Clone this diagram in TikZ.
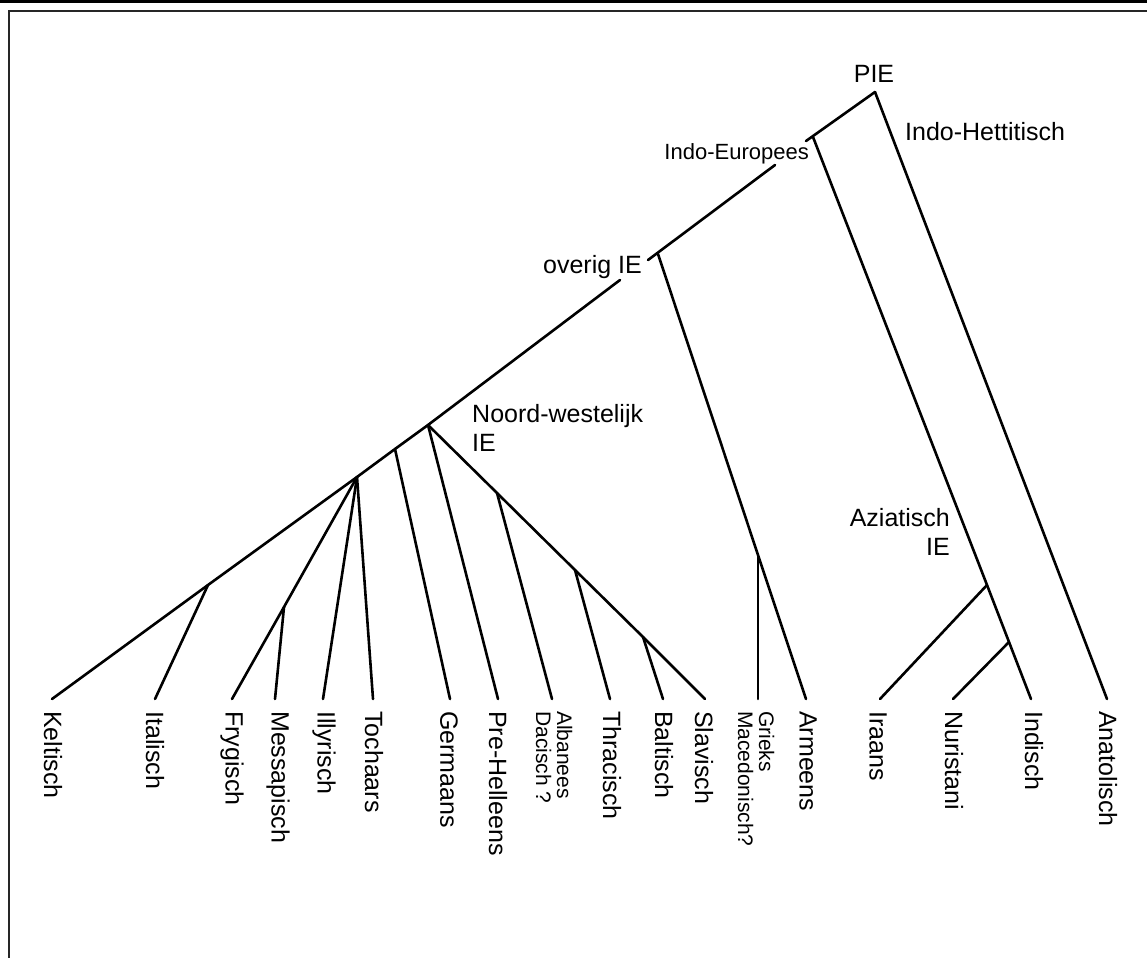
\documentclass[tikz,border=0pt]{standalone}
\usepackage{fontspec}
\setmainfont{Liberation Sans}
\begin{document}
\begin{tikzpicture}[x=1pt,y=-1pt,
  br/.style={line width=2.6pt, line cap=round, line join=round},
  lbl/.style={font=\fontsize{25}{29}\selectfont, inner sep=0pt},
  leaf/.style={lbl, rotate=-90, anchor=west},
  leafsm/.style={leaf, font=\fontsize{21}{21}\selectfont, align=left}]
\useasboundingbox (0,0) rectangle (1147,958);
% frame
\fill[black] (0,0) rectangle (1147,3);
\draw[line width=2pt, black!85] (1147,11) -- (9,11) -- (9,958);

% junctions
\coordinate (pie) at (875,92);
\coordinate (ie) at (813,137);
\coordinate (ieT) at (806,141);
\coordinate (ieS) at (775,165);
\coordinate (ov) at (658,254);
\coordinate (ovT) at (648,260);
\coordinate (ovS) at (620,280);
\coordinate (nw) at (428,425);
\coordinate (ge) at (395,449);
\coordinate (n2) at (357,477);
\coordinate (it) at (208,585);
\coordinate (me) at (284,607);
\coordinate (al) at (497,493);
\coordinate (th) at (575,570);
\coordinate (ba) at (643,637);
\coordinate (gr) at (758,555);
\coordinate (az) at (987,585);
\coordinate (nu) at (1009,642);
% leaf ends
\coordinate (eKel) at (52,699);
\coordinate (eIta) at (155,699);
\coordinate (eFry) at (232,699);
\coordinate (eMes) at (275,699);
\coordinate (eIll) at (323,699);
\coordinate (eToc) at (373,699);
\coordinate (eGer) at (450,699);
\coordinate (ePre) at (498,699);
\coordinate (eAlb) at (552,699);
\coordinate (eThr) at (610,699);
\coordinate (eBal) at (663,699);
\coordinate (eSla) at (705,699);
\coordinate (eGri) at (758,699);
\coordinate (eArm) at (806,699);
\coordinate (eIra) at (880,699);
\coordinate (eNur) at (953,699);
\coordinate (eInd) at (1031,699);
\coordinate (eAna) at (1107,699);

% branches
\draw[br] (pie) -- (ieT);
\draw[br] (ieS) -- (ovT);
\draw[br] (ovS) -- (nw) -- (ge) -- (n2) -- (it) -- (eKel);
\draw[br] (it) -- (eIta);
\draw[br] (n2) -- (me) -- (eFry);
\draw[br] (me) -- (eMes);
\draw[br] (n2) -- (eIll);
\draw[br] (n2) -- (eToc);
\draw[br] (ge) -- (eGer);
\draw[br] (nw) -- (ePre);
\draw[br] (nw) -- (al) -- (th) -- (ba) -- (eSla);
\draw[br] (al) -- (eAlb);
\draw[br] (th) -- (eThr);
\draw[br] (ba) -- (eBal);
\draw[br] (ov) -- (gr) -- (eArm);
\draw[br] (gr) -- (eGri);
\draw[br] (ie) -- (az) -- (nu) -- (eInd);
\draw[br] (az) -- (eIra);
\draw[br] (nu) -- (eNur);
\draw[br] (pie) -- (eAna);

% inner labels
\node[lbl, anchor=base] (tPIE) at (874,82) {PIE};
\node[lbl, anchor=base west] (tIH) at (905,140) {Indo-Hettitisch};
\node[lbl, font=\fontsize{22}{26}\selectfont, anchor=base east] (tIE) at (809,159) {Indo-Europees};
\node[lbl, anchor=base east] (tOV) at (642,273) {overig IE};
\node[lbl, anchor=base west, align=left] (tNW) at (472,451) {Noord-westelijk\\IE};
\node[lbl, anchor=base east, align=right] (tAZ) at (950,555) {Aziatisch\\IE};

% leaf labels
\node[leaf] (lKel) at (53,711) {Keltisch};
\node[leaf] (lIta) at (155,711) {Italisch};
\node[leaf] (lFry) at (232,711) {Frygisch};
\node[leaf] (lMes) at (278,711) {Messapisch};
\node[leaf] (lIll) at (324,711) {Illyrisch};
\node[leaf] (lToc) at (374,711) {Tochaars};
\node[leaf] (lGer) at (449,711) {Germaans};
\node[leaf] (lPre) at (498,711) {Pre-Helleens};
\node[leafsm] (lAlb) at (554,711) {Albanees\\Dacisch ?};
\node[leaf] (lThr) at (612,711) {Thracisch};
\node[leaf] (lBal) at (664,711) {Baltisch};
\node[leaf] (lSla) at (704,711) {Slavisch};
\node[leafsm] (lGri) at (756,711) {Grieks\\Macedonisch?};
\node[leaf] (lArm) at (808,711) {Armeens};
\node[leaf] (lIra) at (878,711) {Iraans};
\node[leaf] (lNur) at (954,711) {Nuristani};
\node[leaf] (lInd) at (1034,711) {Indisch};
\node[leaf] (lAna) at (1108,711) {Anatolisch};
\end{tikzpicture}
\end{document}
